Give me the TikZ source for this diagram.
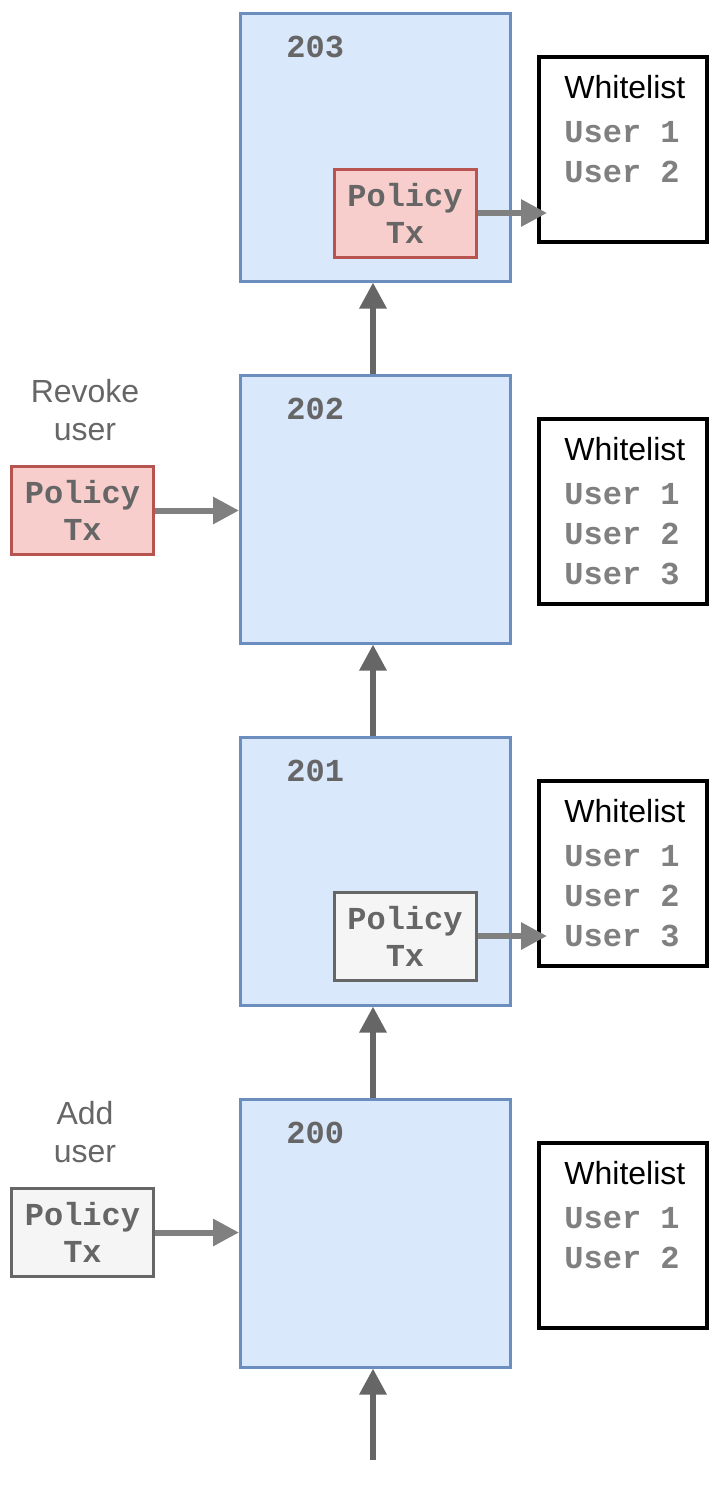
\documentclass[tikz,border=0pt]{standalone}
\usepackage{fontspec}
\setmainfont{Liberation Sans}
\newfontfamily\monofam{Liberation Mono}
\usetikzlibrary{positioning,calc}
\usetikzlibrary{arrows.meta}

\definecolor{blockfill}{HTML}{DAE8FC}
\definecolor{blockline}{HTML}{6C8EBF}
\definecolor{redfill}{HTML}{F8CECC}
\definecolor{redline}{HTML}{B85450}
\definecolor{grayfill}{HTML}{F5F5F5}
\definecolor{grayline}{HTML}{666666}
\definecolor{darktext}{HTML}{666666}
\definecolor{usertext}{HTML}{808080}

\tikzset{
  block/.style={draw=blockline,fill=blockfill,line width=1.5pt,
    minimum width=135pt,minimum height=134pt,inner sep=0pt},
  blocknum/.style={anchor=west,inner sep=0pt,text=darktext,
    font=\monofam\bfseries\fontsize{16}{18}\selectfont},
  policy/.style={line width=1.5pt,minimum width=71pt,minimum height=44pt,
    inner sep=0pt,align=center,text=darktext,
    font=\monofam\bfseries\fontsize{16}{18.5}\selectfont},
  redpolicy/.style={policy,draw=redline,fill=redfill},
  graypolicy/.style={policy,draw=grayline,fill=grayfill},
  wlbox/.style={draw=black,line width=2pt,fill=white,
    minimum width=84pt,minimum height=92.5pt,inner sep=0pt},
  wltext/.style={anchor=north west,inner sep=0pt,align=left,
    font=\fontsize{16}{20}\selectfont},
  note/.style={align=center,inner sep=0pt,text=darktext,
    font=\fontsize{16}{19}\selectfont},
  chain/.style={-{Triangle[length=13pt,width=13pt]},line width=3pt,draw=grayline},
  feed/.style={-{Triangle[length=13pt,width=13pt]},line width=3pt,draw=usertext},
}
\newcommand{\usr}[1]{{\color{usertext}\monofam\bfseries User #1}}

\begin{document}
\begin{tikzpicture}[x=0.5pt,y=-0.5pt]
  \useasboundingbox (0,0) rectangle (718,1490);

  % chain of blocks
  \node (b203) at (375.5,147) [block] {};
  \node (b202) at (375.5,509) [block] {};
  \node (b201) at (375.5,871) [block] {};
  \node (b200) at (375.5,1233) [block] {};
  \node (n203) at (286,47) [blocknum] {203};
  \node (n202) at (286,409) [blocknum] {202};
  \node (n201) at (286,771) [blocknum] {201};
  \node (n200) at (286,1133) [blocknum] {200};

  % policy transactions
  \node (p203) at (405,213) [redpolicy] {Policy\\Tx};
  \node (p201) at (405,936) [graypolicy] {Policy\\Tx};
  \node (revoke) at (82.5,510.5) [redpolicy] {Policy\\Tx};
  \node (add) at (82.5,1232.5) [graypolicy] {Policy\\Tx};
  \node (revlbl) at (85,410) [note] {Revoke\\user};
  \node (addlbl) at (85,1132) [note] {Add\\user};

  % whitelists
  \node (w203) at (623,149.5) [wlbox] {};
  \node (w202) at (623,511.5) [wlbox] {};
  \node (w201) at (623,873.5) [wlbox] {};
  \node (w200) at (623,1235.5) [wlbox] {};
  \node (t203) at (564,75) [wltext] {Whitelist\\[2pt]\usr1\\\usr2};
  \node (t202) at (564,437) [wltext] {Whitelist\\[2pt]\usr1\\\usr2\\\usr3};
  \node (t201) at (564,799) [wltext] {Whitelist\\[2pt]\usr1\\\usr2\\\usr3};
  \node (t200) at (564,1161) [wltext] {Whitelist\\[2pt]\usr1\\\usr2};

  \coordinate (start) at (373,1460);
  \coordinate (h203) at ($(w203.west |- p203.east)+(10,0)$);
  \coordinate (h201) at ($(w201.west |- p201.east)+(10,0)$);

  \draw [chain] (start) -- (start |- b200.south);
  \draw [chain] (b200.north -| start) -- (b201.south -| start);
  \draw [chain] (b201.north -| start) -- (b202.south -| start);
  \draw [chain] (b202.north -| start) -- (b203.south -| start);

  \draw [feed] (revoke) -- (revoke -| b202.west);
  \draw [feed] (add) -- (add -| b200.west);
  \draw [feed] (p203) -- (h203);
  \draw [feed] (p201) -- (h201);
\end{tikzpicture}
\end{document}
